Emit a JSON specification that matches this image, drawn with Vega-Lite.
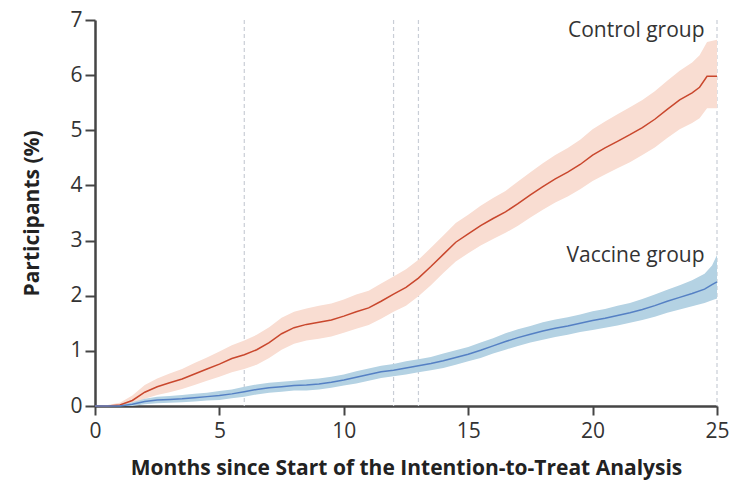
{
  "$schema": "https://vega.github.io/schema/vega-lite/v6.json",
  "width": 622,
  "height": 386,
  "autosize": {"type": "none"},
  "padding": {"left": 95, "top": 20, "right": 27, "bottom": 83},
  "background": "white",
  "config": {
    "view": {"stroke": null},
    "font": "Open Sans",
    "axis": {
      "grid": false,
      "labelFlush": false,
      "domainColor": "#454545",
      "domainWidth": 2.5,
      "tickColor": "#454545",
      "tickWidth": 2,
      "tickSize": 9,
      "labelFont": "Open Sans",
      "labelFontSize": 21,
      "labelColor": "#333333",
      "titleFont": "Open Sans",
      "titleFontSize": 21,
      "titleFontWeight": "bold",
      "titleColor": "#222222"
    }
  },
  "datasets": {
    "curves": [
      {"month": 0, "group": "Control", "est": 0, "lo": 0, "hi": 0},
      {"month": 0.5, "group": "Control", "est": 0, "lo": 0, "hi": 0.02},
      {"month": 1, "group": "Control", "est": 0.02, "lo": 0, "hi": 0.06},
      {"month": 1.5, "group": "Control", "est": 0.1, "lo": 0.02, "hi": 0.19},
      {"month": 2, "group": "Control", "est": 0.25, "lo": 0.13, "hi": 0.38},
      {"month": 2.5, "group": "Control", "est": 0.35, "lo": 0.2, "hi": 0.5},
      {"month": 3, "group": "Control", "est": 0.42, "lo": 0.25, "hi": 0.59},
      {"month": 3.5, "group": "Control", "est": 0.49, "lo": 0.31, "hi": 0.67},
      {"month": 4, "group": "Control", "est": 0.58, "lo": 0.38, "hi": 0.78},
      {"month": 4.5, "group": "Control", "est": 0.67, "lo": 0.46, "hi": 0.88},
      {"month": 5, "group": "Control", "est": 0.76, "lo": 0.53, "hi": 0.99},
      {"month": 5.5, "group": "Control", "est": 0.86, "lo": 0.61, "hi": 1.1},
      {"month": 6, "group": "Control", "est": 0.93, "lo": 0.67, "hi": 1.19},
      {"month": 6.5, "group": "Control", "est": 1.02, "lo": 0.75, "hi": 1.29},
      {"month": 7, "group": "Control", "est": 1.15, "lo": 0.87, "hi": 1.43},
      {"month": 7.5, "group": "Control", "est": 1.31, "lo": 1.02, "hi": 1.6},
      {"month": 8, "group": "Control", "est": 1.42, "lo": 1.13, "hi": 1.71},
      {"month": 8.5, "group": "Control", "est": 1.48, "lo": 1.19, "hi": 1.77},
      {"month": 9, "group": "Control", "est": 1.52, "lo": 1.22, "hi": 1.82},
      {"month": 9.5, "group": "Control", "est": 1.56, "lo": 1.26, "hi": 1.86},
      {"month": 10, "group": "Control", "est": 1.63, "lo": 1.33, "hi": 1.93},
      {"month": 10.5, "group": "Control", "est": 1.71, "lo": 1.4, "hi": 2.02},
      {"month": 11, "group": "Control", "est": 1.78, "lo": 1.47, "hi": 2.09},
      {"month": 11.5, "group": "Control", "est": 1.9, "lo": 1.58, "hi": 2.22},
      {"month": 12, "group": "Control", "est": 2.03, "lo": 1.71, "hi": 2.35},
      {"month": 12.5, "group": "Control", "est": 2.15, "lo": 1.82, "hi": 2.48},
      {"month": 13, "group": "Control", "est": 2.32, "lo": 1.99, "hi": 2.65},
      {"month": 13.5, "group": "Control", "est": 2.53, "lo": 2.19, "hi": 2.87},
      {"month": 14, "group": "Control", "est": 2.75, "lo": 2.41, "hi": 3.09},
      {"month": 14.5, "group": "Control", "est": 2.97, "lo": 2.62, "hi": 3.32},
      {"month": 15, "group": "Control", "est": 3.12, "lo": 2.77, "hi": 3.47},
      {"month": 15.5, "group": "Control", "est": 3.27, "lo": 2.91, "hi": 3.63},
      {"month": 16, "group": "Control", "est": 3.4, "lo": 3.03, "hi": 3.77},
      {"month": 16.5, "group": "Control", "est": 3.52, "lo": 3.14, "hi": 3.9},
      {"month": 17, "group": "Control", "est": 3.67, "lo": 3.27, "hi": 4.07},
      {"month": 17.5, "group": "Control", "est": 3.83, "lo": 3.42, "hi": 4.24},
      {"month": 18, "group": "Control", "est": 3.98, "lo": 3.56, "hi": 4.4},
      {"month": 18.5, "group": "Control", "est": 4.12, "lo": 3.69, "hi": 4.55},
      {"month": 19, "group": "Control", "est": 4.24, "lo": 3.8, "hi": 4.68},
      {"month": 19.5, "group": "Control", "est": 4.38, "lo": 3.93, "hi": 4.83},
      {"month": 20, "group": "Control", "est": 4.55, "lo": 4.08, "hi": 5.02},
      {"month": 20.5, "group": "Control", "est": 4.68, "lo": 4.2, "hi": 5.16},
      {"month": 21, "group": "Control", "est": 4.8, "lo": 4.31, "hi": 5.29},
      {"month": 21.5, "group": "Control", "est": 4.92, "lo": 4.42, "hi": 5.42},
      {"month": 22, "group": "Control", "est": 5.05, "lo": 4.55, "hi": 5.55},
      {"month": 22.5, "group": "Control", "est": 5.2, "lo": 4.69, "hi": 5.71},
      {"month": 23, "group": "Control", "est": 5.38, "lo": 4.86, "hi": 5.9},
      {"month": 23.5, "group": "Control", "est": 5.55, "lo": 5.02, "hi": 6.08},
      {"month": 24, "group": "Control", "est": 5.68, "lo": 5.13, "hi": 6.23},
      {"month": 24.3, "group": "Control", "est": 5.78, "lo": 5.22, "hi": 6.36},
      {"month": 24.6, "group": "Control", "est": 5.98, "lo": 5.4, "hi": 6.6},
      {"month": 25, "group": "Control", "est": 5.98, "lo": 5.4, "hi": 6.64},
      {"month": 0, "group": "Vaccine", "est": 0, "lo": 0, "hi": 0},
      {"month": 1, "group": "Vaccine", "est": 0, "lo": 0, "hi": 0.02},
      {"month": 1.5, "group": "Vaccine", "est": 0.03, "lo": 0, "hi": 0.07},
      {"month": 2, "group": "Vaccine", "est": 0.08, "lo": 0.03, "hi": 0.13},
      {"month": 2.5, "group": "Vaccine", "est": 0.11, "lo": 0.05, "hi": 0.17},
      {"month": 3, "group": "Vaccine", "est": 0.12, "lo": 0.06, "hi": 0.18},
      {"month": 3.5, "group": "Vaccine", "est": 0.13, "lo": 0.07, "hi": 0.2},
      {"month": 4, "group": "Vaccine", "est": 0.15, "lo": 0.08, "hi": 0.22},
      {"month": 4.5, "group": "Vaccine", "est": 0.17, "lo": 0.1, "hi": 0.24},
      {"month": 5, "group": "Vaccine", "est": 0.19, "lo": 0.11, "hi": 0.27},
      {"month": 5.5, "group": "Vaccine", "est": 0.22, "lo": 0.14, "hi": 0.3},
      {"month": 6, "group": "Vaccine", "est": 0.26, "lo": 0.17, "hi": 0.35},
      {"month": 6.5, "group": "Vaccine", "est": 0.3, "lo": 0.21, "hi": 0.39},
      {"month": 7, "group": "Vaccine", "est": 0.33, "lo": 0.24, "hi": 0.42},
      {"month": 7.5, "group": "Vaccine", "est": 0.35, "lo": 0.26, "hi": 0.44},
      {"month": 8, "group": "Vaccine", "est": 0.37, "lo": 0.28, "hi": 0.46},
      {"month": 8.5, "group": "Vaccine", "est": 0.38, "lo": 0.28, "hi": 0.48},
      {"month": 9, "group": "Vaccine", "est": 0.4, "lo": 0.3, "hi": 0.5},
      {"month": 9.5, "group": "Vaccine", "est": 0.43, "lo": 0.33, "hi": 0.53},
      {"month": 10, "group": "Vaccine", "est": 0.47, "lo": 0.37, "hi": 0.57},
      {"month": 10.5, "group": "Vaccine", "est": 0.52, "lo": 0.41, "hi": 0.63},
      {"month": 11, "group": "Vaccine", "est": 0.57, "lo": 0.46, "hi": 0.68},
      {"month": 11.5, "group": "Vaccine", "est": 0.62, "lo": 0.51, "hi": 0.73},
      {"month": 12, "group": "Vaccine", "est": 0.65, "lo": 0.54, "hi": 0.76},
      {"month": 12.5, "group": "Vaccine", "est": 0.69, "lo": 0.57, "hi": 0.81},
      {"month": 13, "group": "Vaccine", "est": 0.73, "lo": 0.61, "hi": 0.85},
      {"month": 13.5, "group": "Vaccine", "est": 0.77, "lo": 0.65, "hi": 0.89},
      {"month": 14, "group": "Vaccine", "est": 0.82, "lo": 0.69, "hi": 0.95},
      {"month": 14.5, "group": "Vaccine", "est": 0.88, "lo": 0.75, "hi": 1.01},
      {"month": 15, "group": "Vaccine", "est": 0.94, "lo": 0.81, "hi": 1.07},
      {"month": 15.5, "group": "Vaccine", "est": 1.01, "lo": 0.87, "hi": 1.15},
      {"month": 16, "group": "Vaccine", "est": 1.09, "lo": 0.95, "hi": 1.23},
      {"month": 16.5, "group": "Vaccine", "est": 1.17, "lo": 1.02, "hi": 1.32},
      {"month": 17, "group": "Vaccine", "est": 1.24, "lo": 1.09, "hi": 1.39},
      {"month": 17.5, "group": "Vaccine", "est": 1.3, "lo": 1.15, "hi": 1.45},
      {"month": 18, "group": "Vaccine", "est": 1.36, "lo": 1.2, "hi": 1.52},
      {"month": 18.5, "group": "Vaccine", "est": 1.41, "lo": 1.25, "hi": 1.57},
      {"month": 19, "group": "Vaccine", "est": 1.45, "lo": 1.29, "hi": 1.61},
      {"month": 19.5, "group": "Vaccine", "est": 1.5, "lo": 1.34, "hi": 1.66},
      {"month": 20, "group": "Vaccine", "est": 1.55, "lo": 1.38, "hi": 1.72},
      {"month": 20.5, "group": "Vaccine", "est": 1.59, "lo": 1.42, "hi": 1.76},
      {"month": 21, "group": "Vaccine", "est": 1.64, "lo": 1.46, "hi": 1.82},
      {"month": 21.5, "group": "Vaccine", "est": 1.69, "lo": 1.51, "hi": 1.87},
      {"month": 22, "group": "Vaccine", "est": 1.75, "lo": 1.56, "hi": 1.94},
      {"month": 22.5, "group": "Vaccine", "est": 1.82, "lo": 1.62, "hi": 2.02},
      {"month": 23, "group": "Vaccine", "est": 1.9, "lo": 1.69, "hi": 2.11},
      {"month": 23.5, "group": "Vaccine", "est": 1.97, "lo": 1.75, "hi": 2.19},
      {"month": 24, "group": "Vaccine", "est": 2.04, "lo": 1.81, "hi": 2.28},
      {"month": 24.5, "group": "Vaccine", "est": 2.12, "lo": 1.87, "hi": 2.4},
      {"month": 24.8, "group": "Vaccine", "est": 2.2, "lo": 1.92, "hi": 2.55},
      {"month": 25, "group": "Vaccine", "est": 2.25, "lo": 1.95, "hi": 2.74}
    ],
    "refs": [{"month": 6}, {"month": 12}, {"month": 13}, {"month": 25}],
    "labels": [
      {"month": 24.5, "value": 6.8, "text": "Control group"},
      {"month": 24.5, "value": 2.72, "text": "Vaccine group"}
    ]
  },
  "layer": [
    {
      "data": {"name": "refs"},
      "mark": {"type": "rule", "color": "#c9ced6", "strokeDash": [4, 3], "strokeWidth": 1.2},
      "encoding": {
        "x": {"field": "month", "type": "quantitative", "scale": {"domain": [0, 25], "nice": false}}
      }
    },
    {
      "data": {"name": "curves"},
      "mark": {"type": "area", "opacity": 1},
      "encoding": {
        "x": {"field": "month", "type": "quantitative", "scale": {"domain": [0, 25], "nice": false}},
        "y": {"field": "lo", "type": "quantitative", "scale": {"domain": [0, 7], "nice": false}},
        "y2": {"field": "hi"},
        "color": {"field": "group", "type": "nominal", "scale": {"domain": ["Control", "Vaccine"], "range": ["#f9ddd2", "#b4d2e3"]}, "legend": null}
      }
    },
    {
      "data": {"name": "curves"},
      "mark": {"type": "line", "strokeWidth": 1.5},
      "encoding": {
        "x": {"field": "month", "type": "quantitative", "scale": {"domain": [0, 25], "nice": false},
          "axis": {"values": [0, 5, 10, 15, 20, 25], "format": "d", "title": "Months since Start of the Intention-to-Treat Analysis", "titlePadding": 16, "labelPadding": 5}},
        "y": {"field": "est", "type": "quantitative", "scale": {"domain": [0, 7], "nice": false},
          "axis": {"values": [0, 1, 2, 3, 4, 5, 6, 7], "format": "d", "title": "Participants (%)", "titlePadding": 27, "labelPadding": 3, "tickSize": 10}},
        "color": {"field": "group", "type": "nominal", "scale": {"domain": ["Control", "Vaccine"], "range": ["#c9472d", "#5580c4"]}, "legend": null}
      }
    },
    {
      "data": {"name": "labels"},
      "mark": {"type": "text", "align": "right", "baseline": "middle", "font": "Open Sans", "fontSize": 21, "color": "#333333"},
      "encoding": {
        "x": {"field": "month", "type": "quantitative", "scale": {"domain": [0, 25], "nice": false}},
        "y": {"field": "value", "type": "quantitative", "scale": {"domain": [0, 7], "nice": false}},
        "text": {"field": "text"}
      }
    }
  ],
  "resolve": {"scale": {"color": "independent"}}
}
